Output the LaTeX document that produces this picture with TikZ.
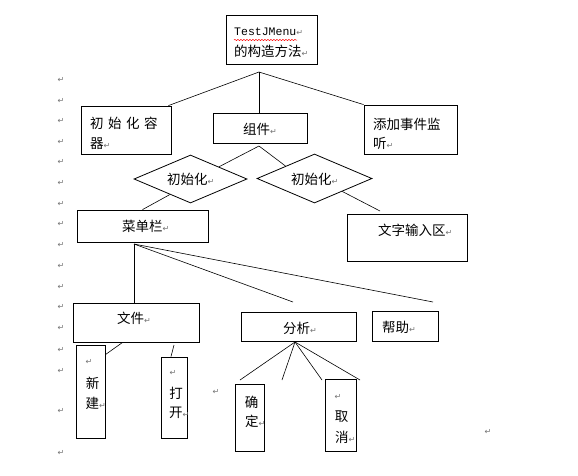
\documentclass[tikz,border=0pt]{standalone}
\usepackage{fontspec}
\setmainfont{Liberation Serif}
\newfontfamily\cjk{Noto Sans CJK SC}
\newfontfamily\symfnt{DejaVu Sans}
\newfontfamily\monofnt{Liberation Mono}
\usetikzlibrary{shapes.geometric,decorations.pathmorphing,calc}
\newcommand\pmk{{\symfnt\fontsize{8}{8}\selectfont\color{black!55}↵}}
\begin{document}
\begin{tikzpicture}[x=1pt,y=-1pt,
  box/.style={draw,line width=0.8pt,inner sep=0,minimum width=#1},
  dia/.style={draw,line width=0.8pt,diamond,aspect=2.4,inner sep=0},
  txt/.style={inner sep=0,anchor=west,font=\cjk\fontsize{13.5}{16}\selectfont},
  ctxt/.style={inner sep=0,font=\cjk\fontsize{13.5}{16}\selectfont},
  pmark/.style={inner sep=0,font=\symfnt\fontsize{8}{8}\selectfont,text=black!55},
  con/.style={line width=0.6pt}]
\useasboundingbox (0,0) rectangle (578,475);
\fill[white] (0,0) rectangle (578,475);
% boxes
\node[box=91pt,minimum height=49pt] (top) at (271.5,39.5) {};
\node[box=90pt,minimum height=48pt] (lbox) at (126,130) {};
\node[box=94pt,minimum height=30pt] (zj) at (260,128) {};
\node[box=93pt,minimum height=49pt] (rbox) at (410.5,129.5) {};
\node[dia,minimum width=113pt,minimum height=48pt] (ld) at (190.5,179) {};
\node[dia,minimum width=115pt,minimum height=49pt] (rd) at (314.5,178.5) {};
\node[box=131pt,minimum height=32pt] (cdl) at (142.5,226) {};
\node[box=120pt,minimum height=47pt] (wz) at (407,237.5) {};
\node[box=126pt,minimum height=39pt] (wj) at (136,322.5) {};
\node[box=115pt,minimum height=29pt] (fx) at (298.5,326.5) {};
\node[box=66pt,minimum height=30pt] (bz) at (405,326) {};
\node[box=29pt,minimum height=93pt] (xj) at (90.5,391.5) {};
\node[box=26pt,minimum height=81pt] (dk) at (174,397.5) {};
\node[box=29pt,minimum height=67pt] (qd) at (249.5,417.5) {};
\node[box=31pt,minimum height=72pt] (qx) at (340.5,415) {};
% texts
\node[inner sep=0,anchor=west,font=\monofnt\fontsize{11.5}{13}\selectfont] (t1) at (234,32) {TestJMenu\pmk};
\draw[red,line width=0.5pt,decorate,decoration={snake,segment length=3pt,amplitude=0.6pt}] (234,40) -- (297,40);
\node[txt] (t2) at (234,51) {的构造方法\pmk};
\node[txt] (l1) at (90,123) {初\hspace{4.5pt}始\hspace{4.5pt}化\hspace{4.5pt}容};
\node[txt] (l2) at (90,144) {器\pmk};
\node[txt] (zjt) at (243,129) {组件\pmk};
\node[txt] (r1) at (373,124) {添加事件监};
\node[txt] (r2) at (373,143) {听\pmk};
\node[txt] (ldt) at (167,179) {初始化\pmk};
\node[txt] (rdt) at (291,179) {初始化\pmk};
\node[txt] (cdlt) at (122,226) {菜单栏\pmk};
\node[txt] (wzt) at (378,230) {文字输入区\pmk};
\node[txt] (wjt) at (117,318) {文件\pmk};
\node[txt] (fxt) at (283,328) {分析\pmk};
\node[txt] (bzt) at (382,327) {帮助\pmk};
\node[pmark] (xm) at (89,362) {↵};
\node[ctxt] (x1) at (92.5,383) {新};
\node[txt] (x2) at (85.5,403) {建\pmk};
\node[pmark] (dm) at (173,373) {↵};
\node[ctxt] (d1) at (176,393) {打};
\node[txt] (d2) at (169,413) {开\pmk};
\node[ctxt] (q1) at (251.5,402) {确};
\node[txt] (q2) at (245,421) {定\pmk};
\node[pmark] (qm) at (338,397) {↵};
\node[ctxt] (c1t) at (341.5,417) {取};
\node[txt] (c2t) at (335,437) {消\pmk};
\node[pmark] (fm1) at (216,392) {↵};
\node[pmark] (fm2) at (488,432) {↵};
\foreach \yy [count=\i] in {80,101,121,142,162,183,204,224,245,266,287,307,328,350,371,411,453}
  \node[pmark] (m\i) at (61,\yy) {↵};
% connectors
\coordinate (a0) at (259,72);
\draw[con] (a0) -- ($(lbox.north east)+(-3,0)$);
\draw[con] (a0) -- ($(zj.north)+(-1,0)$);
\draw[con] (a0) -- (rbox.north west);
\coordinate (a1) at (259,146);
\draw[con] (a1) -- (ld.north east);
\draw[con] (a1) -- (rd.north west);
\draw[con] (ld.-143) -- (cdl.north);
\coordinate (c2) at (380,211);
\draw[con] (rd.-25) -- (c2);
\coordinate (a2) at (134,244);
\coordinate (f1) at (293,302);
\coordinate (f2) at (433,302);
\draw[con] (a2) -- ($(wj.north)+(-2,0)$);
\draw[con] (a2) -- (f1);
\draw[con] (a2) -- (f2);
\draw[con] ($(wj.south west)+(50,0)$) -- ($(xj.north east)+(0,10)$);
\coordinate (e3) at (174,345);
\draw[con] (e3) -- ($(dk.north)+(-3,0)$);
\coordinate (a3) at (295,342);
\coordinate (g1) at (240,380);
\coordinate (g2) at (282,380);
\coordinate (g3) at (322,380);
\coordinate (g4) at (360,380);
\foreach \g in {g1,g2,g3,g4} \draw[con] (a3) -- (\g);
\end{tikzpicture}
\end{document}
